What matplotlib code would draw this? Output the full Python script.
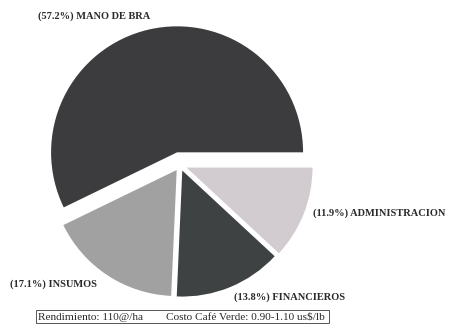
import matplotlib.pyplot as plt

# cost breakdown for coffee production (percent)
categories = ['MANO DE BRA', 'INSUMOS', 'FINANCIEROS', 'ADMINISTRACION']
shares = [57.2, 17.1, 13.8, 11.9]
colors = ['#3c3c3e', '#a2a1a2', '#3f4243', '#d2ccd1']

W, H = 453, 325
R = 126
# wedge offsets, in the same units as the radius
explode = [13, 6, 6, 7]

fig = plt.figure(figsize=(W / 100, H / 100), dpi=100)
ax = fig.add_axes([0, 0, 1, 1])

ax.pie(shares, colors=colors, explode=explode, startangle=0,
       counterclock=True, center=(180, H - 165), radius=R,
       wedgeprops=dict(linewidth=0), frame=True)
ax.set_xlim(0, W)
ax.set_ylim(0, H)
ax.set_aspect('equal')
ax.axis('off')

font = dict(family='Liberation Serif', fontweight='bold', fontsize=7.5,
            color='#2a2a2a', va='center')

# label positions (x, y measured from the top)
label_pos = {
    'MANO DE BRA': (38, 16),
    'INSUMOS': (10, 284),
    'FINANCIEROS': (234, 297),
    'ADMINISTRACION': (313, 213),
}
for cat, val in zip(categories, shares):
    x, y = label_pos[cat]
    ax.text(x, H - y, f'({val:.1f}%) {cat}', ha='left', **font)

ax.text(38, H - 316.5,
        'Rendimiento: 110@/ha        Costo Café Verde: 0.90-1.10 us$/lb ',
        family='Liberation Serif', fontsize=8.1, color='#2a2a2a',
        va='center', ha='left',
        bbox=dict(boxstyle='square,pad=0.15', fc='white', ec='#555555', lw=0.7))

fig.savefig('out.png', dpi=100)
